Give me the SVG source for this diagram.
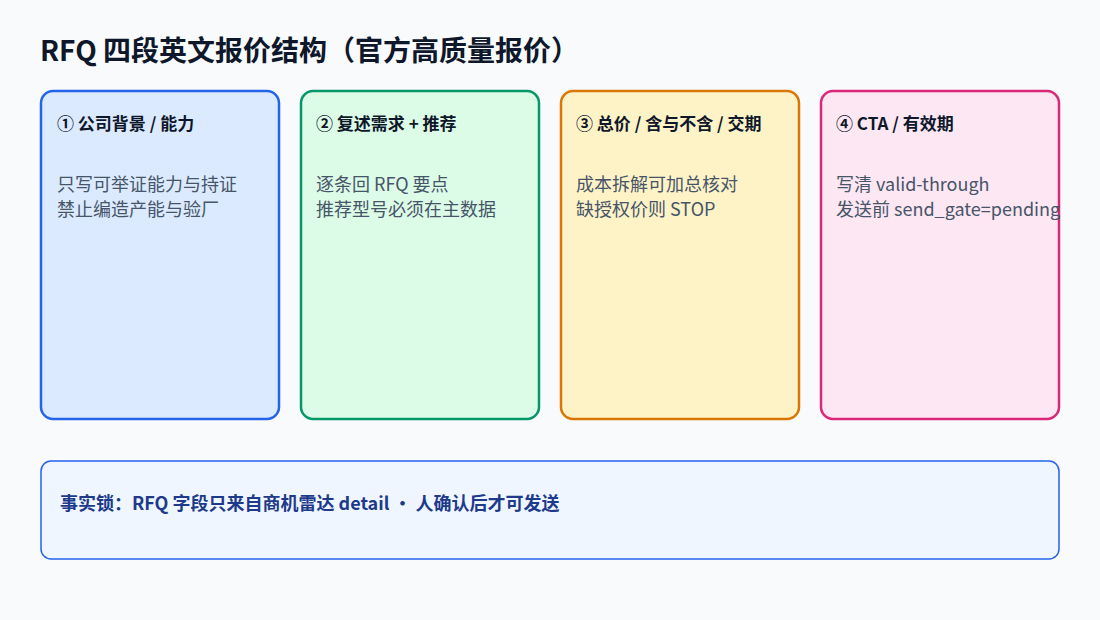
<svg xmlns="http://www.w3.org/2000/svg" width="1100" height="620" viewBox="0 0 1100 620">
<style>
text{font-family:"Noto Sans CJK SC","Noto Sans",sans-serif}
.t{font-size:28px;font-weight:700;fill:#0f172a}
.h{font-size:17px;font-weight:700;fill:#0f172a}
.b{font-size:18px;fill:#475569}
.card{stroke-width:2.5}
</style>
<rect width="1100" height="620" fill="#f8fafc"/>
<text class="t" x="40" y="61">RFQ 四段英文报价结构（官方高质量报价）</text>
<g id="card1"><rect class="card" x="41" y="91" width="238" height="328" rx="12" fill="#dbeafe" stroke="#2563eb"/>
<text class="h" x="57" y="130">① 公司背景 / 能力</text>
<text class="b" x="57" y="191">只写可举证能力与持证</text><text class="b" x="57" y="216">禁止编造产能与验厂</text></g>
<g id="card2"><rect class="card" x="301" y="91" width="238" height="328" rx="12" fill="#dcfce7" stroke="#059669"/>
<text class="h" x="316" y="130">② 复述需求 + 推荐</text>
<text class="b" x="316" y="191">逐条回 RFQ 要点</text><text class="b" x="316" y="216">推荐型号必须在主数据</text></g>
<g id="card3"><rect class="card" x="561" y="91" width="238" height="328" rx="12" fill="#fef3c7" stroke="#d97706"/>
<text class="h" x="576" y="130">③ 总价 / 含与不含 / 交期</text>
<text class="b" x="576" y="191">成本拆解可加总核对</text><text class="b" x="576" y="216">缺授权价则 STOP</text></g>
<g id="card4"><rect class="card" x="821" y="91" width="238" height="328" rx="12" fill="#fce7f3" stroke="#db2777"/>
<text class="h" x="836" y="130">④ CTA / 有效期</text>
<text class="b" x="836" y="191">写清 valid-through</text><text class="b" x="836" y="216">发送前 send_gate=pending</text></g>
<g id="connectors"/>
<g id="factlock"><rect x="41" y="461" width="1018" height="98" rx="10" fill="#eff6ff" stroke="#2563eb" stroke-width="1.5"/>
<text x="60" y="510" font-size="18" font-weight="700" fill="#1e3a8a">事实锁：RFQ 字段只来自商机雷达 detail · 人确认后才可发送</text></g>
</svg>
